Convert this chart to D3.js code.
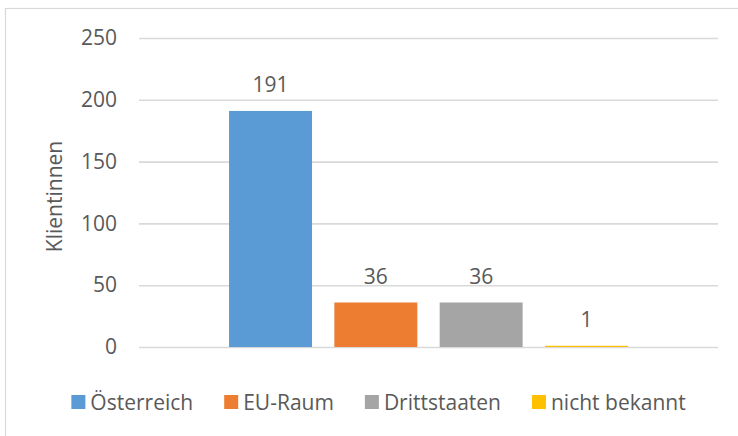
<!DOCTYPE html>
<html>
<head>
<meta charset="utf-8">
<script src="https://cdn.jsdelivr.net/npm/d3@7"></script>
<style>
  html, body { margin: 0; padding: 0; background: #fff; }
  svg { display: block; }
  text { font-family: "Open Sans", "Liberation Sans", sans-serif; fill: #595959; }
</style>
</head>
<body>
<svg id="chart" width="738" height="436"></svg>
<script>
const seriesNames = ["Österreich", "EU-Raum", "Drittstaaten", "nicht bekannt"];
const seriesValues = [191, 36, 36, 1];
const seriesColors = ["#5B9BD5", "#ED7D31", "#A5A5A5", "#FFC000"];
const yTicks = [0, 50, 100, 150, 200, 250];
const yTitle = "Klientinnen";

const svg = d3.select("#chart");
const W = 738, H = 436;
const plot = { left: 139, right: 718, top: 38, bottom: 347 };

// chart border
svg.append("rect")
  .attr("x", 5.5).attr("y", 8.5)
  .attr("width", W + 10).attr("height", H + 10)
  .attr("fill", "#fff").attr("stroke", "#D9D9D9").attr("stroke-width", 1.2);

const y = d3.scaleLinear().domain([0, 250]).range([plot.bottom, plot.top]);
const x = d3.scaleBand().domain(seriesNames)
  .range([plot.left, plot.right])
  .paddingInner(0.212).paddingOuter(0.855);

// gridlines
const yAxis = d3.axisLeft(y).tickValues(yTicks).tickSize(-(plot.right - plot.left)).tickPadding(22);
const gy = svg.append("g").attr("transform", `translate(${plot.left},0)`).call(yAxis);
gy.select(".domain").remove();
gy.selectAll(".tick line").attr("stroke", "#D9D9D9").attr("stroke-width", 1.6);
gy.selectAll(".tick text")
  .attr("fill", "#595959").attr("font-size", 21)
  .attr("font-family", "'Open Sans', sans-serif");

// bars
svg.append("g").selectAll("rect").data(seriesValues).join("rect")
  .attr("x", (d, i) => x(seriesNames[i]))
  .attr("width", x.bandwidth())
  .attr("y", d => y(d))
  .attr("height", d => y(0) - y(d))
  .attr("fill", (d, i) => seriesColors[i]);

// value labels
svg.append("g").selectAll("text").data(seriesValues).join("text")
  .attr("x", (d, i) => x(seriesNames[i]) + x.bandwidth() / 2)
  .attr("y", d => y(d) - 19)
  .attr("text-anchor", "middle")
  .attr("font-size", 21)
  .text(d => d);

// y title
svg.append("text")
  .attr("transform", `translate(62,${(plot.top + plot.bottom) / 2 + 4}) rotate(-90)`)
  .attr("text-anchor", "middle")
  .attr("font-size", 21)
  .text(yTitle);

// legend
const lg = svg.append("g");
const items = lg.selectAll("g").data(seriesNames).join("g");
items.append("rect").attr("width", 14).attr("height", 14).attr("y", -7)
  .attr("fill", (d, i) => seriesColors[i]);
items.append("text").attr("x", 19).attr("y", 7.5)
  .attr("font-size", 21).text(d => d);
let cx = 0;
items.each(function () {
  const g = d3.select(this);
  g.attr("transform", `translate(${cx},0)`);
  const tw = g.select("text").node().getComputedTextLength();
  cx += 19 + tw + 31;
});
const total = cx - 31;
lg.attr("transform", `translate(${378.5 - total / 2},402)`);
</script>
</body>
</html>
